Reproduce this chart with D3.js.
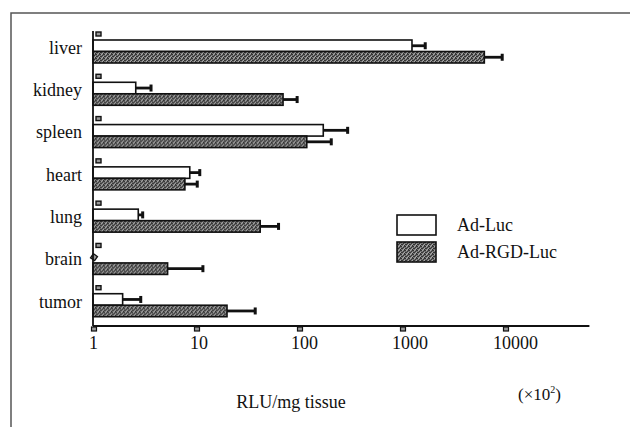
<!DOCTYPE html>
<html>
<head>
<meta charset="utf-8">
<script src="https://cdn.jsdelivr.net/npm/d3@7"></script>
<style>
  body { margin: 0; background: #fff; }
  svg { display: block; }
</style>
</head>
<body>
<div id="chart"></div>
<script>
// Data (RLU/mg tissue, x10^2)
let organs = ["liver", "kidney", "spleen", "heart", "lung", "brain", "tumor"];
let adLuc = [1250, 2.6, 172, 8.7, 2.75, 1, 1.94];
let adLucSd = [450, 1.1, 128, 2.3, 0.32, 0, 1.0];
let adRgdLuc = [6300, 70, 119, 7.8, 42, 5.3, 20];
let adRgdLucSd = [3200, 27, 89, 2.6, 22, 6.5, 18];
let seriesNames = ["Ad-Luc", "Ad-RGD-Luc"];
let tickValues = [1, 10, 100, 1000, 10000];

const SERIF = "'Liberation Serif', 'Times New Roman', Times, serif";

function barChart(){
    let width = 630, height = 427;

    let svg = d3.select("#chart").append("svg")
        .attr("width", width)
        .attr("height", height)
        .style("font-family", SERIF);

    // stipple texture for the dark bars
    let defs = svg.append("defs");
    let pat = defs.append("pattern")
        .attr("id", "stipple")
        .attr("width", 4).attr("height", 4)
        .attr("patternUnits", "userSpaceOnUse");
    pat.append("rect").attr("width", 4).attr("height", 4).attr("fill", "#747474");
    [[0,0],[2,1],[1,2],[3,3],[3,0],[0,2]].forEach(p => {
        pat.append("rect").attr("x", p[0]).attr("y", p[1])
            .attr("width", 1).attr("height", 1).attr("fill", "#333");
    });
    [[1,0],[2,3],[3,2]].forEach(p => {
        pat.append("rect").attr("x", p[0]).attr("y", p[1])
            .attr("width", 1).attr("height", 1).attr("fill", "#a8a8a8");
    });

    // frame
    svg.append("path")
        .attr("d", "M11,427 V13 H630")
        .attr("fill", "none")
        .attr("stroke", "#555")
        .attr("stroke-width", 1.5);

    // scales
    let x = d3.scaleLog().domain([1, 10000]).range([93, 505]);
    let xEnd = x(66000);
    let y = d3.scaleBand().domain(organs).range([30, 326]);
    let inner = d3.scaleBand().domain(seriesNames).range([10, 33]);

    let rows = organs.map((o, i) => ({
        organ: o,
        vals: [
            {s: seriesNames[0], v: adLuc[i], sd: adLucSd[i]},
            {s: seriesNames[1], v: adRgdLuc[i], sd: adRgdLucSd[i]}
        ]
    }));

    let fills = {"Ad-Luc": "#fff", "Ad-RGD-Luc": "url(#stipple)"};

    let group = svg.selectAll(".organ")
        .data(rows)
        .enter().append("g")
        .attr("class", "organ")
        .attr("transform", d => "translate(0," + y(d.organ) + ")");

    // little marker square at top of each group
    group.append("rect")
        .attr("x", x(1) + 3).attr("y", 2)
        .attr("width", 5).attr("height", 4)
        .attr("fill", "#999").attr("stroke", "#111").attr("stroke-width", 1.4);

    let bars = group.selectAll(".bar")
        .data(d => d.vals)
        .enter().append("g")
        .attr("class", "bar");

    // error bars (drawn first so bar outline sits on top)
    bars.filter(d => d.sd > 0).append("line")
        .attr("x1", d => x(d.v))
        .attr("x2", d => x(d.v + d.sd))
        .attr("y1", d => inner(d.s) + inner.bandwidth() / 2)
        .attr("y2", d => inner(d.s) + inner.bandwidth() / 2)
        .attr("stroke", "#111")
        .attr("stroke-width", 2.8);
    bars.filter(d => d.sd > 0).append("rect")
        .attr("x", d => x(d.v + d.sd) - 2)
        .attr("y", d => inner(d.s) + inner.bandwidth() / 2 - 3.5)
        .attr("width", 3).attr("height", 7)
        .attr("fill", "#111");

    bars.filter(d => d.v > 1).append("rect")
        .attr("x", x(1))
        .attr("y", d => inner(d.s))
        .attr("width", d => x(d.v) - x(1))
        .attr("height", inner.bandwidth())
        .attr("fill", d => fills[d.s])
        .attr("stroke", "#111")
        .attr("stroke-width", 1.6);

    // zero-length bar marker (brain, Ad-Luc)
    bars.filter(d => d.v <= 1).append("rect")
        .attr("x", -2.5).attr("y", -2.5)
        .attr("width", 5).attr("height", 5)
        .attr("transform", d => "translate(" + (x(1) + 1) + "," + (inner(d.s) + inner.bandwidth() / 2) + ") rotate(35)")
        .attr("fill", "#999").attr("stroke", "#111").attr("stroke-width", 1.3);

    // category labels
    group.append("text")
        .attr("x", 82)
        .attr("y", 17.5)
        .attr("dy", "0.35em")
        .attr("text-anchor", "end")
        .style("font-family", SERIF)
        .style("font-size", "18px")
        .attr("fill", "#111")
        .text(d => d.organ);

    // y axis line
    svg.append("line")
        .attr("x1", x(1)).attr("x2", x(1))
        .attr("y1", 31).attr("y2", 326)
        .attr("stroke", "#111").attr("stroke-width", 1.8);

    // x axis
    let xAxis = d3.axisBottom(x)
        .tickValues(tickValues)
        .tickSize(0)
        .tickPadding(10)
        .tickFormat(d3.format("d"));

    let gx = svg.append("g")
        .attr("class", "axis")
        .attr("transform", "translate(0,326)")
        .call(xAxis);
    gx.attr("font-family", null);
    gx.select(".domain").remove();
    gx.selectAll("text")
        .attr("dx", (d, i) => i * 2.5)
        .style("font-size", "18px")
        .style("font-family", SERIF)
        .attr("fill", "#111");
    gx.selectAll(".tick").append("rect")
        .attr("x", -2).attr("y", 1)
        .attr("width", 5).attr("height", 4)
        .attr("fill", "#999").attr("stroke", "#111").attr("stroke-width", 1.2);

    svg.append("line")
        .attr("x1", x(1)).attr("x2", xEnd)
        .attr("y1", 326).attr("y2", 326)
        .attr("stroke", "#111").attr("stroke-width", 1.8);

    // axis titles
    svg.append("text")
        .attr("x", 291).attr("y", 408)
        .attr("text-anchor", "middle")
        .style("font-family", SERIF)
        .style("font-size", "18px")
        .attr("fill", "#111")
        .text("RLU/mg tissue");

    let unit = svg.append("text")
        .attr("x", 518).attr("y", 400)
        .style("font-family", SERIF)
        .style("font-size", "17px")
        .attr("fill", "#111");
    unit.append("tspan").text("(×10");
    unit.append("tspan").attr("dy", -7).style("font-size", "10px").text("2");
    unit.append("tspan").attr("dy", 7).text(")");

    // legend
    let legend = svg.selectAll(".legend")
        .data(seriesNames)
        .enter().append("g")
        .attr("class", "legend")
        .attr("transform", (d, i) => "translate(397," + (215 + i * 27) + ")");
    legend.append("rect")
        .attr("width", 39).attr("height", 20)
        .attr("fill", d => fills[d])
        .attr("stroke", "#111").attr("stroke-width", 1.6);
    legend.append("text")
        .attr("x", 60).attr("y", 10)
        .attr("dy", "0.35em")
        .style("font-family", SERIF)
        .style("font-size", "18px")
        .attr("fill", "#111")
        .text(d => d);
}

barChart();
</script>
</body>
</html>
